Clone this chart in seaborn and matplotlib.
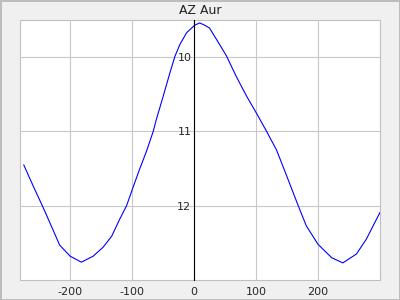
import matplotlib
matplotlib.use("Agg")
import matplotlib.pyplot as plt
import seaborn as sns
import pandas as pd
from matplotlib.ticker import MultipleLocator

phase = [-275, -260, -245, -238, -217, -200, -182, -163, -147, -133, -120, -109,
         -98, -88, -77, -66, -61, -50, -39, -31, -23, -12, 1, 9, 17, 25, 36,
         52, 68, 85, 101, 117, 133, 149, 168, 181, 200, 222, 240, 262, 278, 300]
mag = [11.45, 11.73, 12.0, 12.13, 12.53, 12.68, 12.76, 12.68, 12.56, 12.41, 12.18, 12.0,
       11.74, 11.51, 11.27, 11.0, 10.84, 10.53, 10.21, 9.99, 9.83, 9.67, 9.57, 9.54, 9.57, 9.61, 9.76,
       9.98, 10.26, 10.53, 10.76, 11.0, 11.25, 11.59, 12.0, 12.27, 12.52, 12.70, 12.77, 12.65, 12.45, 12.09]
title = "AZ Aur"
xticks = [-200, -100, 0, 100, 200]
yticks = [10, 11, 12]

sns.set_style("white")
plt.rcParams['font.family'] = ['DejaVu Sans']

df = pd.DataFrame({"phase": phase, "mag": mag})

fig = plt.figure(figsize=(4, 3), dpi=100)
fig.patch.set_facecolor('#f0f0f0')
fig.patch.set_edgecolor('#bdbdbd')
fig.patch.set_linewidth(2)
ax = fig.add_axes([0.05, 0.0667, 0.9, 0.8667])
ax.set_facecolor('white')

sns.lineplot(data=df, x="phase", y="mag", ax=ax, color='#0000ff', linewidth=0.8,
             estimator=None, sort=False)

ax.set_xlim(-281, 300)
ax.set_ylim(13.0, 9.5)

ax.set_xticks(xticks)
ax.set_xticklabels([str(v) for v in xticks])
ax.xaxis.set_minor_locator(MultipleLocator(20))
ax.set_yticks(yticks)
ax.set_yticklabels([str(v) for v in yticks])
ax.yaxis.set_minor_locator(MultipleLocator(0.5))

ax.grid(True, which='major', color='#c8c8c8', linewidth=0.8)
ax.set_axisbelow(True)

for s in ['top', 'right', 'bottom']:
    ax.spines[s].set_visible(False)
ax.spines['left'].set_position(('data', 0))
ax.spines['left'].set_color('black')
ax.spines['left'].set_linewidth(0.8)
ax.spines['left'].set_zorder(3)
ax.patch.set_edgecolor('#c0c0c0')
ax.patch.set_linewidth(0.8)

ax.tick_params(axis='x', which='both', direction='in', length=3, width=0.8,
               color='black', labelsize=8, pad=5)
ax.tick_params(axis='y', which='both', direction='in', length=3.5, width=0.8,
               color='black', labelsize=8, pad=2)

ax.set_xlabel("")
ax.set_ylabel("")
ax.set_title(title, fontsize=9, color='#222222', pad=4)

fig.savefig("out.png", dpi=100, facecolor=fig.get_facecolor(), edgecolor=fig.get_edgecolor())
